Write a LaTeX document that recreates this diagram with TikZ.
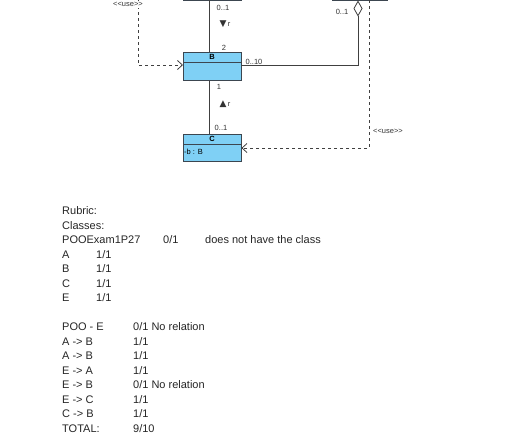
\documentclass[tikz,border=0pt]{standalone}
\usepackage{fontspec}
\setmainfont{Liberation Sans}
\newfontfamily\symfont{DejaVu Sans}
\usetikzlibrary{arrows.meta,positioning}

\definecolor{clsfill}{HTML}{7FD0F5}
\definecolor{clsline}{HTML}{3C4650}
\definecolor{edgeline}{HTML}{404040}

\tikzstyle{clshead}=[draw=clsline,fill=clsfill,minimum width=58pt,minimum height=10pt,inner sep=0pt,font=\fontsize{7.5}{8}\selectfont\bfseries]
\tikzstyle{clsbody}=[draw=clsline,fill=clsfill,minimum width=58pt,minimum height=18pt,inner sep=0pt]
\tikzstyle{lbl}=[inner sep=0pt,font=\fontsize{7.5}{8}\selectfont,text=black!80]
\tikzstyle{rub}=[inner sep=0pt,anchor=west,font=\fontsize{11}{12}\selectfont,text=black!85]
\tikzstyle{assoc}=[draw=edgeline,line width=0.8pt]
\tikzstyle{use}=[draw=edgeline,line width=0.8pt,dash pattern=on 3pt off 3pt,-{Straight Barb[length=5pt,width=9pt]}]

\newcommand{\usetag}{<\kern0pt<use>\kern0pt>}
\newcommand{\roletri}[1]{{\symfont\fontsize{9}{9}\selectfont#1}\,r}

\begin{document}
\begin{tikzpicture}[x=1pt,y=-1pt]
\useasboundingbox[fill=white] (0,0) rectangle (516,439);
% classes cut by the top edge
\begin{scope}
\clip (0,0) rectangle (516,439);
   \node[clsbody,anchor=south west] (classA) at (183,0.5) {};
   \node[clsbody,minimum width=55pt,anchor=south west] (classE) at (332,0.5) {};
\end{scope}

% class B and class C
   \node[clshead,anchor=north west] (bhead) at (183,52) {B};
   \node[clsbody,below=0pt of bhead] (bbody) {};
   \node[clshead,anchor=north west] (chead) at (183,134) {C};
   \node[clsbody,below=0pt of chead,minimum height=17pt] (cbody) {};
   \node[lbl,anchor=west,text=black] (cattr) at (184,151.5) {-b : B};
   \draw[clsline,line width=0.9pt] (bhead.south west) -- (bhead.south east);

% associations
   \coordinate (atop) at (209,0);
   \draw[assoc] (atop) -- (atop |- bhead.north);
   \draw[assoc] (bbody.south -| atop) -- (atop |- chead.north);
   \coordinate (diam) at (358,0.5);
   \coordinate (bend) at (358,65);
   \draw[assoc,{Diamond[open,length=16pt,width=9pt,fill=white]}-] (diam) -- (bend) -- (bend -| bbody.east);

% dependencies
   \coordinate (usea) at (138,0);
   \coordinate (usebend) at (138,65);
   \draw[use] (usea) -- (usebend) -- (usebend -| bbody.west);
   \coordinate (usee) at (369,0);
   \coordinate (usecbend) at (369,148);
   \draw[use] (usee) -- (usecbend) -- (usecbend -| cbody.east);
   \node[lbl,fill=white,inner sep=1pt] (usealbl) at (128,4.5) {\usetag};
   \node[lbl,anchor=west] (useelbl) at (373,131) {\usetag};

% multiplicities and roles
   \node[lbl] (mab1) at (223,7.5) {0..1};
   \node[lbl] (mab2) at (224,47.5) {2};
   \node[lbl] (rab) at (225,24) {\roletri{▼}};
   \node[lbl] (mbe) at (254,61.5) {0..10};
   \node[lbl] (meb) at (342,11.5) {0..1};
   \node[lbl] (mbc1) at (219,86.5) {1};
   \node[lbl] (rbc) at (225,104.5) {\roletri{▲}};
   \node[lbl] (mbc2) at (221,128) {0..1};

% rubric
   \node[rub] (rubric) at (62,211) {Rubric:};
   \node[rub] (classes) at (62,225.5) {Classes:};
   \node[rub] (cpoo) at (62,240) {POOExam1P27};
   \node[rub] (cpoov) at (163,240) {0/1};
   \node[rub] (cpoon) at (205,240) {does not have the class};
   \node[rub] (ca) at (62,254.5) {A};
   \node[rub] (cav) at (96,254.5) {1/1};
   \node[rub] (cb) at (62,269) {B};
   \node[rub] (cbv) at (96,269) {1/1};
   \node[rub] (cc) at (62,283.5) {C};
   \node[rub] (ccv) at (96,283.5) {1/1};
   \node[rub] (ce) at (62,298) {E};
   \node[rub] (cev) at (96,298) {1/1};

   \node[rub] (rpoo) at (62,327) {POO - E};
   \node[rub] (rpoov) at (133,327) {0/1 No relation};
   \node[rub] (rab1) at (62,341.5) {A -> B};
   \node[rub] (rab1v) at (133,341.5) {1/1};
   \node[rub] (rab2) at (62,356) {A -> B};
   \node[rub] (rab2v) at (133,356) {1/1};
   \node[rub] (rea) at (62,370.5) {E -> A};
   \node[rub] (reav) at (133,370.5) {1/1};
   \node[rub] (reb) at (62,385) {E -> B};
   \node[rub] (rebv) at (133,385) {0/1 No relation};
   \node[rub] (rec) at (62,399.5) {E -> C};
   \node[rub] (recv) at (133,399.5) {1/1};
   \node[rub] (rcb) at (62,414) {C -> B};
   \node[rub] (rcbv) at (133,414) {1/1};
   \node[rub] (total) at (62,428.5) {TOTAL:};
   \node[rub] (totalv) at (133,428.5) {9/10};

\end{tikzpicture}
\end{document}
